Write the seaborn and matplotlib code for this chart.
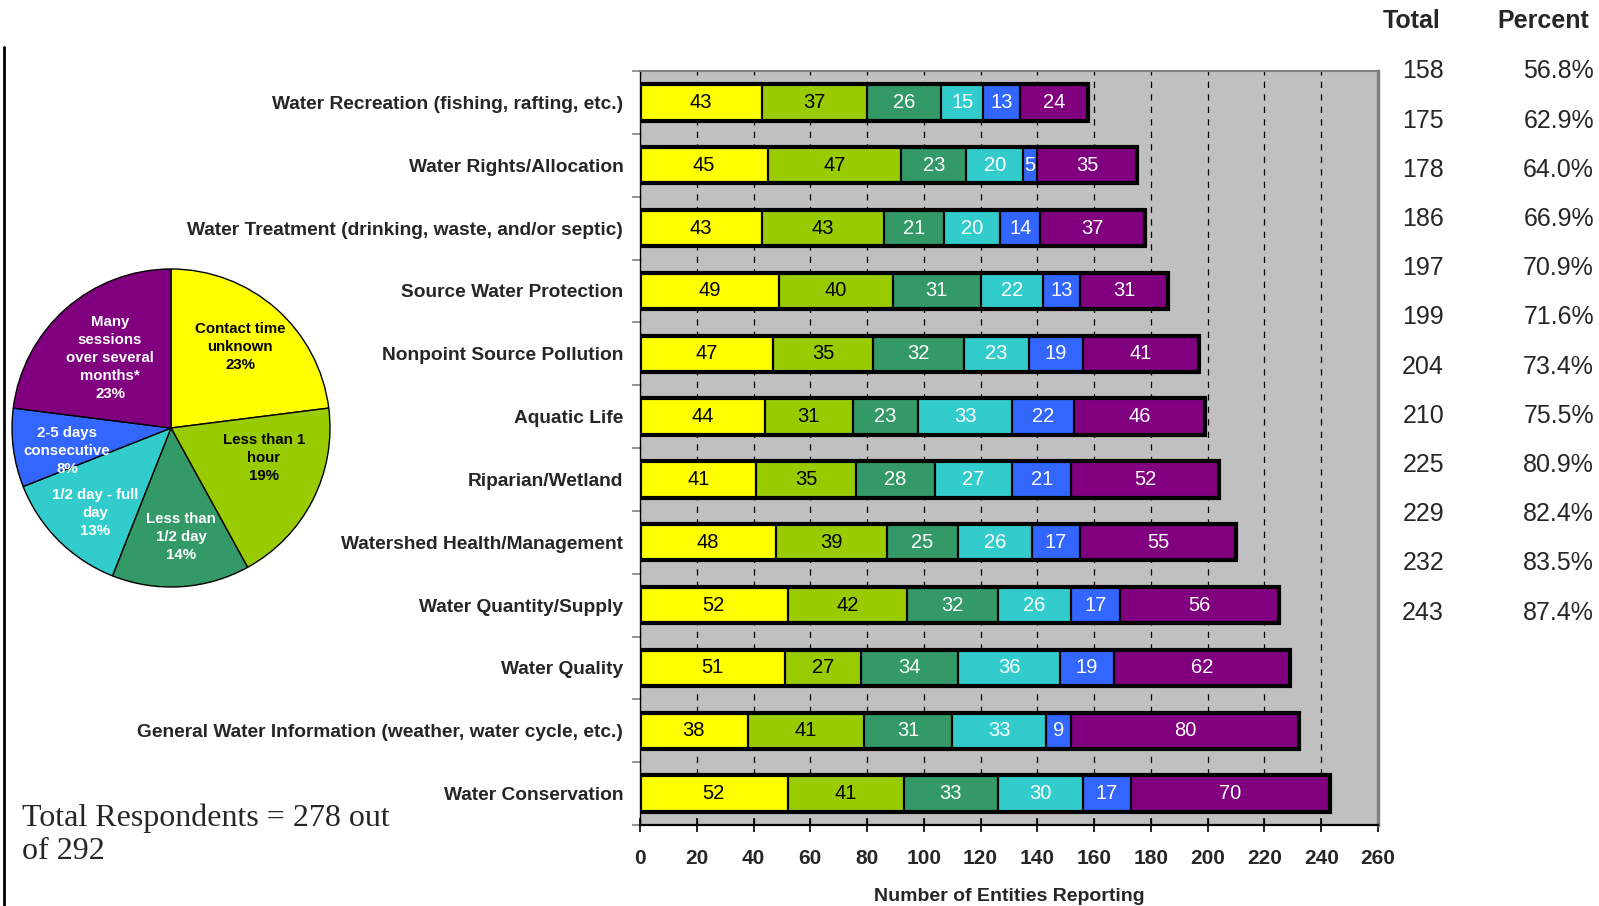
import numpy as np
import matplotlib
matplotlib.use("Agg")
import matplotlib.pyplot as plt
from matplotlib.lines import Line2D
import seaborn as sns

# ---- data -------------------------------------------------------------
topics = [
    "Water Recreation (fishing, rafting, etc.)",
    "Water Rights/Allocation",
    "Water Treatment (drinking, waste, and/or septic)",
    "Source Water Protection",
    "Nonpoint Source Pollution",
    "Aquatic Life",
    "Riparian/Wetland",
    "Watershed Health/Management",
    "Water Quantity/Supply",
    "Water Quality",
    "General Water Information (weather, water cycle, etc.)",
    "Water Conservation",
]

contact_unknown = [43, 45, 43, 49, 47, 44, 41, 48, 52, 51, 38, 52]
under_1_hour = [37, 47, 43, 40, 35, 31, 35, 39, 42, 27, 41, 41]
under_half_day = [26, 23, 21, 31, 32, 23, 28, 25, 32, 34, 31, 33]
half_to_full_day = [15, 20, 20, 22, 23, 33, 27, 26, 26, 36, 33, 30]
two_to_five_days = [13, 5, 14, 13, 19, 22, 21, 17, 17, 19, 9, 17]
many_sessions = [24, 35, 37, 31, 41, 46, 52, 55, 56, 62, 80, 70]

table_totals = [158, 175, 178, 186, 197, 199, 204, 210, 225, 229, 232, 243]
table_percents = [56.8, 62.9, 64.0, 66.9, 70.9, 71.6, 73.4, 75.5, 80.9, 82.4, 83.5, 87.4]

pie_labels = [
    "Contact time\nunknown",
    "Less than 1\nhour",
    "Less than\n1/2 day",
    "1/2 day - full\nday",
    "2-5 days\nconsecutive",
    "Many\nsessions\nover several\nmonths*",
]
pie_shares = [23, 19, 14, 13, 8, 23]

x_ticks = list(range(0, 261, 20))
respondents_note = "Total Respondents = 278 out\nof 292"

# ---- styling ----------------------------------------------------------
seg_colors = ["#FFFF00", "#99CC00", "#339966", "#33CCCC", "#3366FF", "#800080"]
text_colors = ["black", "black", "white", "white", "white", "white"]

sns.set_theme(style="white")
plt.rcParams["font.family"] = ["Liberation Sans", "DejaVu Sans"]

W, H = 1599, 906
fig = plt.figure(figsize=(W / 100, H / 100), dpi=100)
fig.patch.set_facecolor("white")

# ---- stacked bars -----------------------------------------------------
ax = fig.add_axes([640 / W, 1 - 825 / H, (1378 - 640) / W, (825 - 71) / H])
ax.set_facecolor("#C0C0C0")

series = np.array([contact_unknown, under_1_hour, under_half_day,
                   half_to_full_day, two_to_five_days, many_sessions])
cum = np.cumsum(series, axis=0)
bar_h = 0.58

for k in reversed(range(len(series))):
    sns.barplot(x=cum[k], y=topics, orient="h", color=seg_colors[k],
                saturation=1, width=bar_h, edgecolor="black", linewidth=1.6,
                errorbar=None, ax=ax, zorder=3)

# heavy outline round each whole bar
ax.barh(np.arange(len(topics)), cum[-1], height=bar_h, left=0, fill=False,
        edgecolor="black", linewidth=3, zorder=4)

for k in range(len(series)):
    for i in range(len(topics)):
        v = series[k][i]
        ax.text(cum[k][i] - v / 2, i, str(v), ha="center", va="center",
                color=text_colors[k], fontsize=14.5, zorder=5)

ax.set_xlim(0, 260)
ax.set_ylim(len(topics) - 0.5, -0.5)
ax.set_xticks(x_ticks)
ax.set_xticklabels([str(t) for t in x_ticks])
ax.set_axisbelow(True)
ax.xaxis.grid(True, color="black", linestyle=(0, (5, 5)), linewidth=0.9)
ax.yaxis.grid(False)

for side, col, lw in [("left", "black", 1.0), ("bottom", "black", 1.6),
                      ("top", "#808080", 1.5), ("right", "#808080", 2.5)]:
    ax.spines[side].set_visible(True)
    ax.spines[side].set_color(col)
    ax.spines[side].set_linewidth(lw)

ax.set_yticks(np.arange(len(topics)))
ax.set_yticklabels(topics)
ax.set_yticks(np.arange(-0.5, len(topics), 1), minor=True)
ax.tick_params(axis="y", which="major", length=0, pad=12, labelsize=13.8)
ax.tick_params(axis="y", which="minor", length=6, width=1.2, color="#808080",
               direction="out", left=True)
ax.tick_params(axis="x", which="major", direction="inout", length=10,
               width=1.2, color="black", bottom=True, labelsize=15, pad=12)
for lbl in ax.get_yticklabels() + ax.get_xticklabels():
    lbl.set_fontweight("bold")

ax.set_ylabel("")
ax.set_xlabel("Number of Entities Reporting", fontsize=14, fontweight="bold",
              labelpad=15)

# ---- totals table -----------------------------------------------------
fig.text(1412 / W, 1 - 21 / H, "Total", ha="center", va="center",
         fontsize=18, fontweight="bold")
fig.text(1543 / W, 1 - 21 / H, "Percent", ha="center", va="center",
         fontsize=18, fontweight="bold")
row_y = 71.5 + 49.2 * np.arange(len(table_totals))
for yy, tot, pct in zip(row_y, table_totals, table_percents):
    fig.text(1444 / W, 1 - yy / H, f"{tot}", ha="right", va="center",
             fontsize=18)
    fig.text(1594 / W, 1 - yy / H, f"{pct:.1f}%", ha="right", va="center",
             fontsize=18)

# ---- pie --------------------------------------------------------------
cx, cy, R = 171, 428, 159
ax_pie = fig.add_axes([(cx - R) / W, 1 - (cy + R) / H, 2 * R / W, 2 * R / H])
ax_pie.pie(pie_shares, colors=seg_colors, startangle=90, counterclock=False,
           radius=1, wedgeprops=dict(edgecolor="black", linewidth=1))
ax_pie.set_xlim(-1, 1)
ax_pie.set_ylim(-1, 1)
ax_pie.set_axis_off()

label_px = [(240, 347), (264, 458), (181, 537), (95, 513), (67, 451), (110, 358)]
for (px, py), lab, share, col in zip(label_px, pie_labels, pie_shares, text_colors):
    ax_pie.text((px - cx) / R, -(py - cy) / R, f"{lab}\n{share}%",
                ha="center", va="center", color=col, fontsize=10.8,
                fontweight="bold", linespacing=1.35)

# ---- notes and frame line ---------------------------------------------
fig.text(22 / W, 1 - 835 / H, respondents_note, ha="left", va="center",
         fontsize=23, family=["Liberation Serif", "DejaVu Serif"])
fig.add_artist(Line2D([4 / W, 4 / W], [0, 1 - 47 / H], color="black",
                      linewidth=2, transform=fig.transFigure))

fig.savefig("out.png", dpi=100)
